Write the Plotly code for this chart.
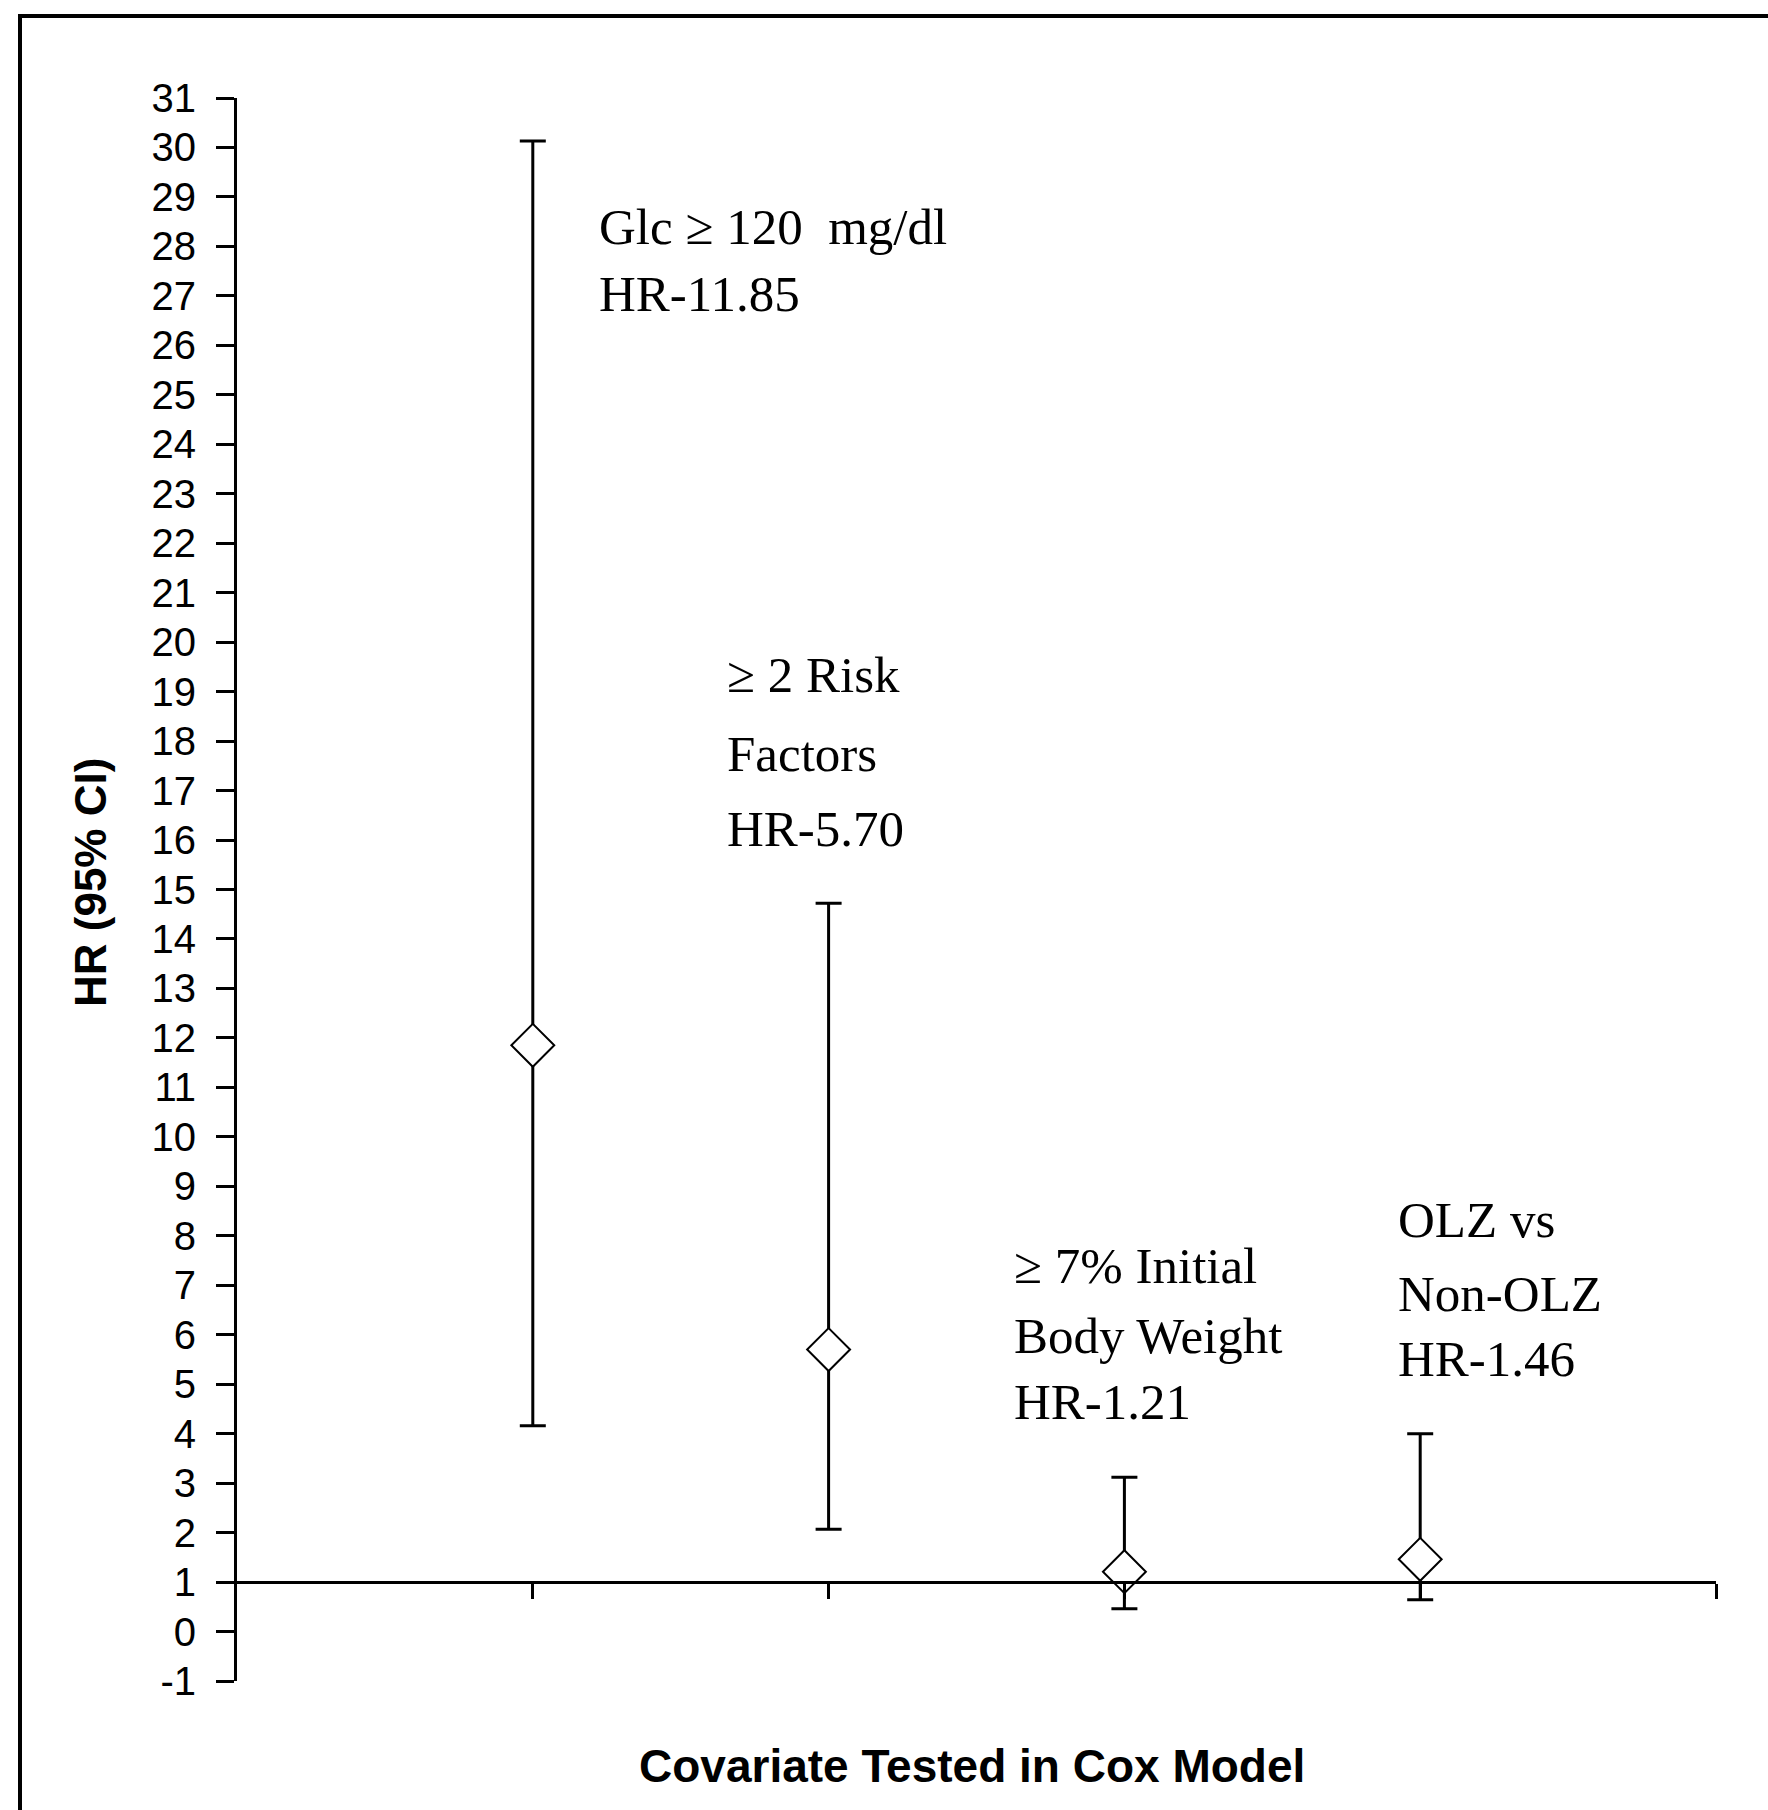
import plotly.graph_objects as go

# Hazard ratios (95% CI) for each covariate tested in the Cox model
covariates = ["Glc ≥ 120 mg/dl", "≥ 2 Risk Factors", "≥ 7% Initial Body Weight", "OLZ vs Non-OLZ"]
hr = [11.85, 5.70, 1.21, 1.46]
ci_low = [4.16, 2.07, 0.46, 0.64]
ci_high = [30.13, 14.72, 3.12, 4.00]

# Text lines written beside each estimate (the last line carries the HR value)
label_lines = [
    ["Glc ≥ 120  mg/dl"],
    ["≥ 2 Risk", "Factors"],
    ["≥ 7% Initial", "Body Weight"],
    ["OLZ vs", "Non-OLZ"],
]

y_ticks = list(range(-1, 32))
x_pos = list(range(1, len(covariates) + 1))

# Placement of the text blocks (data units): left x, y of each line centre
label_x = [1.217, 1.650, 2.620, 3.918]
label_y = [
    [28.39, 27.04],
    [19.34, 17.74, 16.22],
    [7.39, 5.97, 4.64],
    [8.32, 6.82, 5.51],
]

W, H = 1768, 1810
L, R, T, B = 237, 52, 98, 129
Y_MIN, Y_MAX = -1, 31
X_MIN, X_MAX = 0, 5

fig = go.Figure()
fig.add_trace(
    go.Scatter(
        x=x_pos,
        y=hr,
        mode="markers",
        text=covariates,
        marker=dict(symbol="diamond", size=33, color="white",
                    line=dict(color="black", width=2)),
        error_y=dict(
            type="data",
            symmetric=False,
            array=[h - c for h, c in zip(ci_high, hr)],
            arrayminus=[c - l for c, l in zip(hr, ci_low)],
            color="black",
            thickness=3,
            width=13,
        ),
        showlegend=False,
        hoverinfo="text+y",
    )
)

annotations = []
for i, lines in enumerate(label_lines):
    all_lines = lines + [f"HR-{hr[i]:.2f}"]
    for line, yv in zip(all_lines, label_y[i]):
        annotations.append(
            dict(x=label_x[i], y=yv, xref="x", yref="y", text=line,
                 showarrow=False, xanchor="left", yanchor="middle",
                 font=dict(family="Liberation Serif", size=51, color="black"))
        )

plot_w = W - L - R
plot_h = H - T - B

def px_x(p):
    return (p - L) / plot_w

def px_y(p):
    return (H - B - p) / plot_h

# Axis titles
annotations.append(dict(
    x=px_x(90), y=px_y(883), xref="paper", yref="paper", text="<b>HR (95% CI)</b>",
    textangle=-90, showarrow=False, xanchor="center", yanchor="middle",
    font=dict(family="Liberation Sans", size=44, color="black")))
annotations.append(dict(
    x=px_x(972), y=px_y(1766), xref="paper", yref="paper",
    text="<b>Covariate Tested in Cox Model</b>",
    showarrow=False, xanchor="center", yanchor="middle",
    font=dict(family="Liberation Sans", size=46, color="black")))

# Outer frame (top and left edges visible)
frame_x0, frame_y0 = px_x(20), px_y(16)
shapes = [dict(
    type="path", xref="paper", yref="paper",
    path=f"M {frame_x0},{px_y(H + 40)} L {frame_x0},{frame_y0} L {px_x(W + 40)},{frame_y0}",
    line=dict(color="black", width=4))]

fig.update_layout(
    width=W, height=H,
    margin=dict(l=L, r=R, t=T, b=B, pad=0),
    paper_bgcolor="white", plot_bgcolor="white",
    annotations=annotations,
    shapes=shapes,
    xaxis=dict(
        range=[X_MIN, X_MAX], anchor="free",
        position=(1 - Y_MIN) / (Y_MAX - Y_MIN),
        showline=True, linecolor="black", linewidth=3,
        tickmode="array", tickvals=list(range(1, X_MAX + 1)),
        ticks="outside", ticklen=15, tickwidth=3, tickcolor="black",
        showticklabels=False, showgrid=False, zeroline=False,
    ),
    yaxis=dict(
        range=[Y_MIN, Y_MAX],
        showline=True, linecolor="black", linewidth=3,
        tickmode="array", tickvals=y_ticks, ticktext=[str(v) for v in y_ticks],
        ticks="outside", ticklen=18, tickwidth=3, tickcolor="black",
        tickfont=dict(family="Liberation Sans", size=40, color="black"),
        ticklabelstandoff=12,
        showgrid=False, zeroline=False,
    ),
)

fig.write_html("out.html")
